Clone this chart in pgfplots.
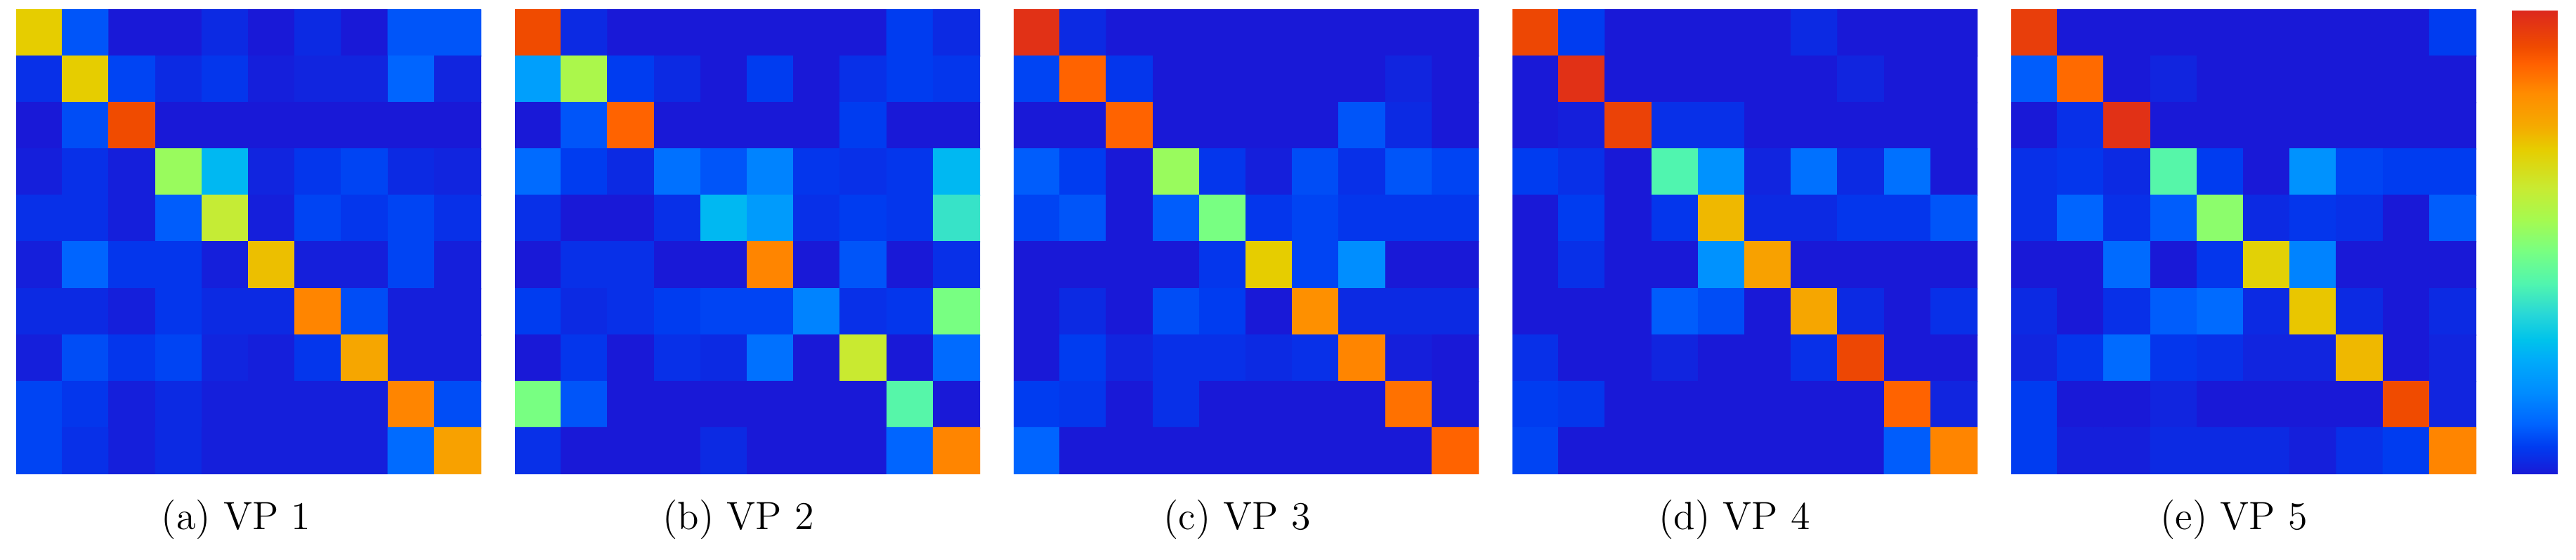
\documentclass[border=0pt]{standalone}
\usepackage{pgfplots}
\pgfplotsset{compat=1.18}
\pgfplotsset{
  colormap={vp}{
    rgb255(0pt)=(25,25,215);
    rgb255(60pt)=(0,60,240);
    rgb255(108pt)=(0,100,255);
    rgb255(176pt)=(0,140,255);
    rgb255(244pt)=(0,170,250);
    rgb255(290pt)=(0,195,235);
    rgb255(345pt)=(40,215,215);
    rgb255(410pt)=(80,245,175);
    rgb255(480pt)=(120,255,130);
    rgb255(548pt)=(165,250,80);
    rgb255(616pt)=(200,235,50);
    rgb255(700pt)=(230,205,0);
    rgb255(750pt)=(245,170,0);
    rgb255(820pt)=(255,140,0);
    rgb255(886pt)=(255,95,0);
    rgb255(920pt)=(240,75,0);
    rgb255(1000pt)=(220,40,30)
  },
  vpmat/.style={
    scale only axis, width=132.4pt, height=132.2pt,
    xmin=-0.5, xmax=9.5, ymin=-0.5, ymax=9.5, y dir=reverse,
    enlargelimits=false, axis line style={draw=none}, xtick=\empty, ytick=\empty,
    point meta min=0, point meta max=1, colormap name=vp,
    anchor=south west,
  },
  vpplot/.style={matrix plot*, mesh/cols=10, point meta=explicit},
}
\begin{document}
\begin{tikzpicture}
\useasboundingbox (0,0) rectangle (733.4pt,159.4pt);
% (a) VP 1
\begin{axis}[vpmat, at={(4.6pt,24.4pt)}]
\addplot[vpplot] coordinates {
(0,0)[.70] (1,0)[.09] (2,0)[.00] (3,0)[.00] (4,0)[.03] (5,0)[.00] (6,0)[.03] (7,0)[.00] (8,0)[.09] (9,0)[.09]
(0,1)[.04] (1,1)[.70] (2,1)[.07] (3,1)[.03] (4,1)[.05] (5,1)[.01] (6,1)[.02] (7,1)[.02] (8,1)[.11] (9,1)[.02]
(0,2)[.00] (1,2)[.08] (2,2)[.92] (3,2)[.00] (4,2)[.00] (5,2)[.00] (6,2)[.00] (7,2)[.00] (8,2)[.00] (9,2)[.00]
(0,3)[.01] (1,3)[.04] (2,3)[.01] (3,3)[.53] (4,3)[.27] (5,3)[.02] (6,3)[.05] (7,3)[.07] (8,3)[.03] (9,3)[.02]
(0,4)[.04] (1,4)[.04] (2,4)[.01] (3,4)[.10] (4,4)[.61] (5,4)[.01] (6,4)[.07] (7,4)[.05] (8,4)[.07] (9,4)[.04]
(0,5)[.01] (1,5)[.11] (2,5)[.05] (3,5)[.05] (4,5)[.01] (5,5)[.72] (6,5)[.01] (7,5)[.01] (8,5)[.07] (9,5)[.01]
(0,6)[.03] (1,6)[.03] (2,6)[.01] (3,6)[.05] (4,6)[.03] (5,6)[.03] (6,6)[.83] (7,6)[.08] (8,6)[.01] (9,6)[.01]
(0,7)[.01] (1,7)[.08] (2,7)[.05] (3,7)[.07] (4,7)[.02] (5,7)[.01] (6,7)[.05] (7,7)[.76] (8,7)[.01] (9,7)[.01]
(0,8)[.07] (1,8)[.05] (2,8)[.01] (3,8)[.03] (4,8)[.01] (5,8)[.01] (6,8)[.01] (7,8)[.01] (8,8)[.83] (9,8)[.08]
(0,9)[.07] (1,9)[.04] (2,9)[.01] (3,9)[.03] (4,9)[.01] (5,9)[.01] (6,9)[.01] (7,9)[.01] (8,9)[.12] (9,9)[.77]
};
\end{axis}
% (b) VP 2
\begin{axis}[vpmat, at={(146.6pt,24.4pt)}]
\addplot[vpplot] coordinates {
(0,0)[.92] (1,0)[.03] (2,0)[.00] (3,0)[.00] (4,0)[.00] (5,0)[.00] (6,0)[.00] (7,0)[.00] (8,0)[.06] (9,0)[.03]
(0,1)[.22] (1,1)[.56] (2,1)[.06] (3,1)[.03] (4,1)[.00] (5,1)[.06] (6,1)[.00] (7,1)[.04] (8,1)[.06] (9,1)[.05]
(0,2)[.00] (1,2)[.09] (2,2)[.88] (3,2)[.00] (4,2)[.00] (5,2)[.00] (6,2)[.00] (7,2)[.06] (8,2)[.00] (9,2)[.00]
(0,3)[.12] (1,3)[.06] (2,3)[.03] (3,3)[.13] (4,3)[.09] (5,3)[.16] (6,3)[.05] (7,3)[.04] (8,3)[.05] (9,3)[.27]
(0,4)[.04] (1,4)[.00] (2,4)[.00] (3,4)[.04] (4,4)[.27] (5,4)[.21] (6,4)[.04] (7,4)[.06] (8,4)[.05] (9,4)[.37]
(0,5)[.00] (1,5)[.04] (2,5)[.04] (3,5)[.00] (4,5)[.00] (5,5)[.83] (6,5)[.00] (7,5)[.09] (8,5)[.00] (9,5)[.04]
(0,6)[.06] (1,6)[.03] (2,6)[.04] (3,6)[.06] (4,6)[.07] (5,6)[.07] (6,6)[.16] (7,6)[.04] (8,6)[.05] (9,6)[.48]
(0,7)[.00] (1,7)[.05] (2,7)[.00] (3,7)[.04] (4,7)[.03] (5,7)[.13] (6,7)[.00] (7,7)[.62] (8,7)[.00] (9,7)[.12]
(0,8)[.48] (1,8)[.09] (2,8)[.00] (3,8)[.00] (4,8)[.00] (5,8)[.00] (6,8)[.00] (7,8)[.00] (8,8)[.42] (9,8)[.00]
(0,9)[.04] (1,9)[.00] (2,9)[.00] (3,9)[.00] (4,9)[.03] (5,9)[.00] (6,9)[.00] (7,9)[.00] (8,9)[.11] (9,9)[.83]
};
\end{axis}
% (c) VP 3
\begin{axis}[vpmat, at={(288.6pt,24.4pt)}]
\addplot[vpplot] coordinates {
(0,0)[.98] (1,0)[.03] (2,0)[.00] (3,0)[.00] (4,0)[.00] (5,0)[.00] (6,0)[.00] (7,0)[.00] (8,0)[.00] (9,0)[.00]
(0,1)[.07] (1,1)[.88] (2,1)[.05] (3,1)[.00] (4,1)[.00] (5,1)[.00] (6,1)[.00] (7,1)[.00] (8,1)[.02] (9,1)[.00]
(0,2)[.00] (1,2)[.00] (2,2)[.88] (3,2)[.00] (4,2)[.00] (5,2)[.00] (6,2)[.00] (7,2)[.09] (8,2)[.03] (9,2)[.00]
(0,3)[.10] (1,3)[.06] (2,3)[.00] (3,3)[.53] (4,3)[.05] (5,3)[.01] (6,3)[.08] (7,3)[.04] (8,3)[.09] (9,3)[.07]
(0,4)[.07] (1,4)[.09] (2,4)[.00] (3,4)[.10] (4,4)[.48] (5,4)[.05] (6,4)[.07] (7,4)[.05] (8,4)[.05] (9,4)[.05]
(0,5)[.00] (1,5)[.00] (2,5)[.00] (3,5)[.00] (4,5)[.05] (5,5)[.70] (6,5)[.07] (7,5)[.18] (8,5)[.00] (9,5)[.00]
(0,6)[.00] (1,6)[.03] (2,6)[.00] (3,6)[.08] (4,6)[.06] (5,6)[.00] (6,6)[.81] (7,6)[.03] (8,6)[.03] (9,6)[.03]
(0,7)[.00] (1,7)[.06] (2,7)[.02] (3,7)[.04] (4,7)[.04] (5,7)[.03] (6,7)[.04] (7,7)[.83] (8,7)[.01] (9,7)[.00]
(0,8)[.06] (1,8)[.05] (2,8)[.00] (3,8)[.04] (4,8)[.00] (5,8)[.00] (6,8)[.00] (7,8)[.00] (8,8)[.86] (9,8)[.00]
(0,9)[.11] (1,9)[.00] (2,9)[.00] (3,9)[.00] (4,9)[.00] (5,9)[.00] (6,9)[.00] (7,9)[.00] (8,9)[.00] (9,9)[.88]
};
\end{axis}
% (d) VP 4
\begin{axis}[vpmat, at={(430.6pt,24.4pt)}]
\addplot[vpplot] coordinates {
(0,0)[.93] (1,0)[.06] (2,0)[.00] (3,0)[.00] (4,0)[.00] (5,0)[.00] (6,0)[.03] (7,0)[.00] (8,0)[.00] (9,0)[.00]
(0,1)[.00] (1,1)[.98] (2,1)[.00] (3,1)[.00] (4,1)[.00] (5,1)[.00] (6,1)[.00] (7,1)[.02] (8,1)[.00] (9,1)[.00]
(0,2)[.00] (1,2)[.01] (2,2)[.94] (3,2)[.04] (4,2)[.04] (5,2)[.00] (6,2)[.00] (7,2)[.00] (8,2)[.00] (9,2)[.00]
(0,3)[.06] (1,3)[.04] (2,3)[.00] (3,3)[.41] (4,3)[.19] (5,3)[.02] (6,3)[.13] (7,3)[.03] (8,3)[.13] (9,3)[.00]
(0,4)[.00] (1,4)[.06] (2,4)[.00] (3,4)[.05] (4,4)[.73] (5,4)[.03] (6,4)[.03] (7,4)[.05] (8,4)[.05] (9,4)[.09]
(0,5)[.00] (1,5)[.04] (2,5)[.00] (3,5)[.00] (4,5)[.19] (5,5)[.77] (6,5)[.00] (7,5)[.00] (8,5)[.00] (9,5)[.00]
(0,6)[.00] (1,6)[.00] (2,6)[.00] (3,6)[.10] (4,6)[.08] (5,6)[.00] (6,6)[.76] (7,6)[.03] (8,6)[.00] (9,6)[.04]
(0,7)[.04] (1,7)[.00] (2,7)[.00] (3,7)[.02] (4,7)[.00] (5,7)[.00] (6,7)[.04] (7,7)[.93] (8,7)[.00] (9,7)[.00]
(0,8)[.06] (1,8)[.05] (2,8)[.00] (3,8)[.00] (4,8)[.00] (5,8)[.00] (6,8)[.00] (7,8)[.00] (8,8)[.88] (9,8)[.02]
(0,9)[.07] (1,9)[.00] (2,9)[.00] (3,9)[.00] (4,9)[.00] (5,9)[.00] (6,9)[.00] (7,9)[.00] (8,9)[.10] (9,9)[.83]
};
\end{axis}
% (e) VP 5
\begin{axis}[vpmat, at={(572.6pt,24.4pt)},
  colorbar,
  colorbar style={at={(parent axis.south east)}, anchor=south west, xshift=1.7pt,
    scale only axis, width=13pt, height=132.2pt, xtick=\empty, ytick=\empty,
    axis line style={draw=none}}]
\addplot[vpplot] coordinates {
(0,0)[.95] (1,0)[.00] (2,0)[.00] (3,0)[.00] (4,0)[.00] (5,0)[.00] (6,0)[.00] (7,0)[.00] (8,0)[.00] (9,0)[.06]
(0,1)[.10] (1,1)[.87] (2,1)[.00] (3,1)[.02] (4,1)[.00] (5,1)[.00] (6,1)[.00] (7,1)[.00] (8,1)[.00] (9,1)[.00]
(0,2)[.00] (1,2)[.04] (2,2)[.98] (3,2)[.00] (4,2)[.00] (5,2)[.00] (6,2)[.00] (7,2)[.00] (8,2)[.00] (9,2)[.00]
(0,3)[.04] (1,3)[.05] (2,3)[.03] (3,3)[.42] (4,3)[.06] (5,3)[.00] (6,3)[.19] (7,3)[.07] (8,3)[.06] (9,3)[.06]
(0,4)[.04] (1,4)[.11] (2,4)[.04] (3,4)[.10] (4,4)[.51] (5,4)[.03] (6,4)[.05] (7,4)[.04] (8,4)[.00] (9,4)[.10]
(0,5)[.00] (1,5)[.00] (2,5)[.12] (3,5)[.00] (4,5)[.05] (5,5)[.69] (6,5)[.16] (7,5)[.00] (8,5)[.00] (9,5)[.00]
(0,6)[.03] (1,6)[.00] (2,6)[.04] (3,6)[.10] (4,6)[.12] (5,6)[.03] (6,6)[.71] (7,6)[.03] (8,6)[.00] (9,6)[.03]
(0,7)[.02] (1,7)[.05] (2,7)[.12] (3,7)[.05] (4,7)[.04] (5,7)[.02] (6,7)[.02] (7,7)[.73] (8,7)[.00] (9,7)[.02]
(0,8)[.06] (1,8)[.00] (2,8)[.00] (3,8)[.02] (4,8)[.00] (5,8)[.00] (6,8)[.00] (7,8)[.00] (8,8)[.92] (9,8)[.02]
(0,9)[.06] (1,9)[.01] (2,9)[.01] (3,9)[.03] (4,9)[.03] (5,9)[.03] (6,9)[.01] (7,9)[.04] (8,9)[.06] (9,9)[.83]
};
\end{axis}
\begin{scope}[every node/.style={anchor=base, inner sep=0pt, font=\fontsize{11.2}{13}\selectfont}]
\node at (67.2pt,8.6pt) {(a) VP 1};
\node at (210.2pt,8.6pt) {(b) VP 2};
\node at (352.2pt,8.6pt) {(c) VP 3};
\node at (493.8pt,8.6pt) {(d) VP 4};
\node at (636pt,8.6pt) {(e) VP 5};
\end{scope}
\end{tikzpicture}
\end{document}
